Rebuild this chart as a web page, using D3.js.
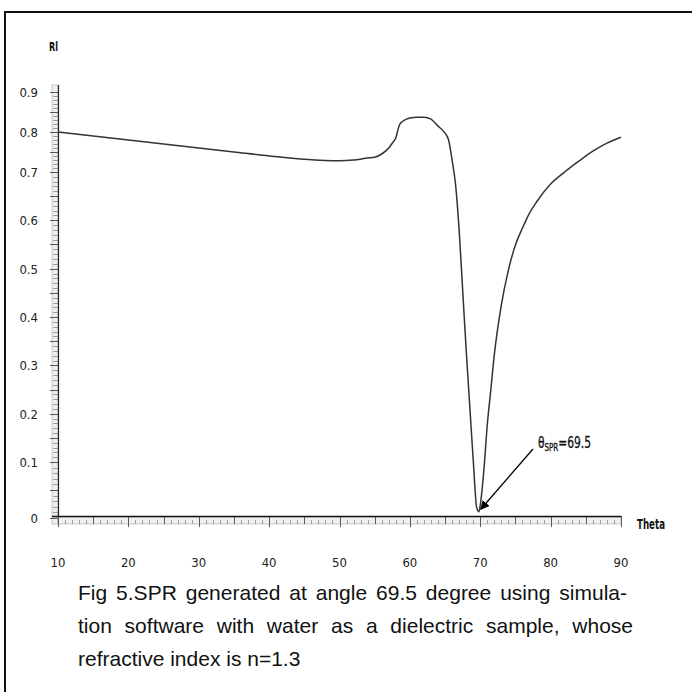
<!DOCTYPE html>
<html>
<head>
<meta charset="utf-8">
<script src="https://cdn.jsdelivr.net/npm/d3@7"></script>
<style>
  body { margin: 0; background: #fff; }
  svg { display: block; }
</style>
</head>
<body>
<div id="chart"></div>
<script>

// Data: reflectivity against angle
var theta = [10, 15, 20, 25, 30, 35, 40, 45, 50, 52, 54, 55, 56, 57, 57.5, 58, 58.5, 59, 60, 61, 62, 63, 64, 65, 65.5,
             66, 66.5, 67, 67.5, 68, 68.5, 69, 69.5, 69.8, 70, 70.5, 71, 71.5, 72, 73, 74, 75, 76, 77, 78, 80, 82, 84, 86, 88, 90];
var reflect = [0.800, 0.790, 0.780, 0.770, 0.760, 0.750, 0.740, 0.732, 0.728, 0.730, 0.735, 0.737, 0.745, 0.760, 0.772, 0.785, 0.817, 0.827, 0.835, 0.837, 0.837, 0.832, 0.815, 0.797, 0.780,
               0.730, 0.673, 0.580, 0.456, 0.332, 0.218, 0.104, 0.018, 0.011, 0.023, 0.083, 0.177, 0.249, 0.322, 0.425, 0.497, 0.549, 0.584, 0.615, 0.638, 0.675, 0.700, 0.727, 0.752, 0.772, 0.787];

var xTicks = [10, 20, 30, 40, 50, 60, 70, 80, 90];
var yTicks = [0, 0.1, 0.2, 0.3, 0.4, 0.5, 0.6, 0.7, 0.8, 0.9];
var minAngle = 69.5;

var captionLines = [
    'Fig 5.SPR generated at angle 69.5 degree using simula-',
    'tion software with water as a dielectric sample, whose',
    'refractive index is n=1.3'
];

var width = 692, height = 692;
var condensed = '"DejaVu Sans Condensed", "DejaVu Sans", sans-serif';

var svg = d3.select('#chart')
    .append('svg')
    .attr('width', width)
    .attr('height', height);

// frame around the figure (cut by the page)
svg.append('rect')
    .attr('x', 5).attr('y', 12)
    .attr('width', 720).attr('height', 720)
    .attr('fill', 'none')
    .attr('stroke', '#111')
    .attr('stroke-width', 2);

// the software draws its value labels unevenly, so the scale follows them
var x = d3.scaleLinear().domain([10, 90]).range([58, 621]);
var y = d3.scaleLinear()
    .domain([0, 0.1, 0.7, 0.8, 0.9])
    .range([518, 462, 172, 132, 92]);

// y ruler
svg.append('rect')
    .attr('x', 52).attr('y', 85)
    .attr('width', 6).attr('height', 439)
    .attr('fill', '#efefef')
    .attr('stroke', '#aaa')
    .attr('stroke-width', 0.6);

svg.append('g').selectAll('line')
    .data(d3.range(0, 91).map(d => d / 100))
    .enter()
    .append('line')
    .attr('x1', d => (Math.round(d * 100) % 5 === 0) ? 50 : 53)
    .attr('x2', 58)
    .attr('y1', d => Math.round(y(d)) + 0.5)
    .attr('y2', d => Math.round(y(d)) + 0.5)
    .attr('stroke', d => (Math.round(d * 100) % 5 === 0) ? '#333' : '#888')
    .attr('stroke-width', 0.8);

svg.append('line')
    .attr('x1', 58.5).attr('x2', 58.5)
    .attr('y1', 85).attr('y2', 524)
    .attr('stroke', '#222')
    .attr('stroke-width', 1.2);

// x ruler
svg.append('rect')
    .attr('x', 58).attr('y', 517)
    .attr('width', 563).attr('height', 7)
    .attr('fill', '#efefef')
    .attr('stroke', '#aaa')
    .attr('stroke-width', 0.6);

svg.append('g').selectAll('line')
    .data(d3.range(10, 91))
    .enter()
    .append('line')
    .attr('x1', d => Math.round(x(d)) + 0.5)
    .attr('x2', d => Math.round(x(d)) + 0.5)
    .attr('y1', d => d % 5 === 0 ? 516 : 520)
    .attr('y2', d => d % 10 === 0 ? 527 : 524)
    .attr('stroke', d => d % 5 === 0 ? '#333' : '#888')
    .attr('stroke-width', 0.8);

svg.append('line')
    .attr('x1', 52).attr('x2', 621)
    .attr('y1', 516.5).attr('y2', 516.5)
    .attr('stroke', '#111')
    .attr('stroke-width', 1.6);

// tick labels
svg.append('g').selectAll('text')
    .data(yTicks)
    .enter()
    .append('text')
    .text(d => d === 0 ? '0' : d3.format('.1f')(d))
    .attr('x', 38)
    .attr('y', d => y(d) + 5)
    .attr('text-anchor', 'end')
    .style('font-family', condensed)
    .style('font-size', '13px')
    .attr('fill', '#222');

svg.append('g').selectAll('text')
    .data(xTicks)
    .enter()
    .append('text')
    .text(d => d)
    .attr('x', d => x(d))
    .attr('y', 567)
    .attr('text-anchor', 'middle')
    .style('font-family', condensed)
    .style('font-size', '13px')
    .attr('fill', '#222');

// axis names
svg.append('text')
    .text('Rl')
    .attr('x', 49).attr('y', 51)
    .attr('textLength', 9).attr('lengthAdjust', 'spacingAndGlyphs')
    .style('font-family', condensed)
    .style('font-size', '13px')
    .style('font-weight', 'bold')
    .attr('fill', '#111');

svg.append('text')
    .text('Theta')
    .attr('x', 637).attr('y', 529)
    .attr('textLength', 28).attr('lengthAdjust', 'spacingAndGlyphs')
    .style('font-family', condensed)
    .style('font-size', '14px')
    .style('font-weight', 'bold')
    .attr('fill', '#111');

// reflectivity curve
var points = theta.map((t, i) => [t, reflect[i]]);
var line = d3.line()
    .x(d => x(d[0]))
    .y(d => y(d[1]))
    .curve(d3.curveMonotoneX);

svg.append('path')
    .datum(points)
    .attr('d', line)
    .attr('fill', 'none')
    .attr('stroke', '#333')
    .attr('stroke-width', 1.5);

// annotation of the resonance angle
svg.append('defs').append('marker')
    .attr('id', 'head')
    .attr('viewBox', '0 0 10 10')
    .attr('refX', 9).attr('refY', 5)
    .attr('markerWidth', 7).attr('markerHeight', 7)
    .attr('orient', 'auto')
    .append('path')
    .attr('d', 'M0,0 L10,5 L0,10 Z')
    .attr('fill', '#000');

svg.append('line')
    .attr('x1', 533).attr('y1', 449)
    .attr('x2', x(minAngle) + 4).attr('y2', y(0.012) - 2)
    .attr('stroke', '#000')
    .attr('stroke-width', 1.3)
    .attr('marker-end', 'url(#head)');

var note = svg.append('text')
    .attr('x', 538).attr('y', 448)
    .attr('textLength', 53).attr('lengthAdjust', 'spacingAndGlyphs')
    .style('font-family', condensed)
    .style('font-size', '15px')
    .style('stroke', '#111').style('stroke-width', 0.3)
    .attr('fill', '#111');
note.append('tspan').text('\u03B8');
note.append('tspan').text('SPR').style('font-size', '10px').attr('dy', 3);
note.append('tspan').text('=' + minAngle).attr('dy', -3);

// caption, justified by widening the word gaps
var captionFont = '"Liberation Sans", Arial, sans-serif';
var captionWidth = [549, 555, null];
captionLines.forEach(function (t, i) {
    var el = svg.append('text')
        .text(t)
        .attr('x', 78)
        .attr('y', 600 + i * 33)
        .style('font-family', captionFont)
        .style('font-size', '21px')
        .attr('fill', '#111');
    if (captionWidth[i]) {
        var natural = el.node().getComputedTextLength();
        var gaps = t.split(' ').length - 1;
        el.style('word-spacing', ((captionWidth[i] - natural) / gaps) + 'px');
    }
});
</script>
</body>
</html>
